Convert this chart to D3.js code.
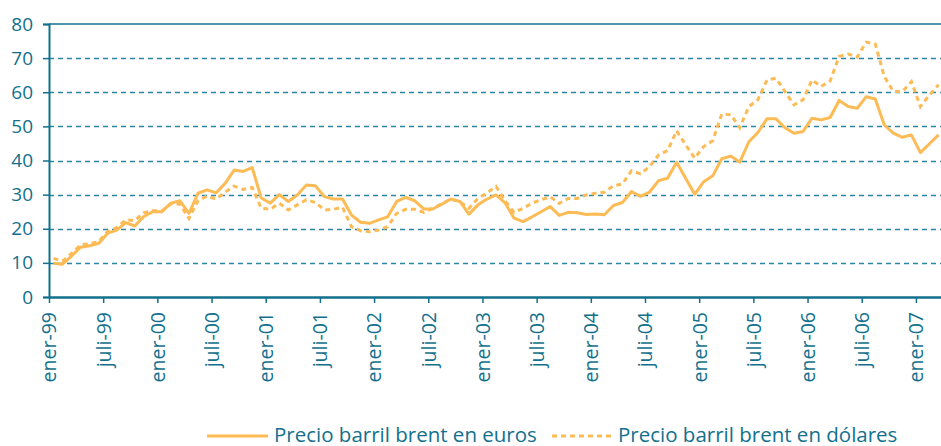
<!DOCTYPE html>
<html>
<head>
<meta charset="utf-8">
<script src="https://cdn.jsdelivr.net/npm/d3@7"></script>
<style>
  body { margin: 0; background: #fff; }
  svg text { font-family: "Open Sans", "Noto Sans", sans-serif; fill: #13708d; }
</style>
</head>
<body>
<div id="chart"></div>
<script>
'use strict';

// one label per month, ener-99 .. mar-07
const monthNames = ['ener', 'febr', 'marz', 'abri', 'mayo', 'juni', 'juli', 'agos', 'sept', 'octu', 'novi', 'dici'];
const months = [];
for (let y = 1999; y <= 2007; y++) {
    for (let m = 0; m < 12; m++) {
        if (y === 2007 && m > 2) break;
        months.push(`${monthNames[m]}-${String(y % 100).padStart(2, '0')}`);
    }
}

const euros = [
    9.9, 9.6, 12.0, 14.6, 15.0, 15.7, 18.7, 19.6, 21.8, 20.8, 23.6, 25.0,
    25.0, 27.5, 28.2, 24.5, 30.4, 31.4, 30.5, 33.3, 37.2, 36.8, 37.9, 29.0,
    27.5, 30.0, 28.0, 29.9, 32.8, 32.6, 29.4, 28.7, 28.7, 24.0, 21.9, 21.6,
    22.6, 23.5, 28.0, 29.2, 28.2, 25.8, 25.8, 27.2, 28.7, 28.0, 24.3, 27.0,
    28.7, 29.9, 27.6, 23.1, 22.1, 23.5, 25.0, 26.5, 23.9, 24.8, 24.7, 24.2,
    24.3, 24.1, 26.8, 27.7, 30.9, 29.5, 30.7, 34.1, 34.8, 39.5, 34.8, 30.1,
    33.8, 35.5, 40.5, 41.3, 39.5, 45.5, 48.2, 52.2, 52.2, 49.6, 48.0, 48.5,
    52.4, 51.9, 52.6, 57.6, 55.8, 55.3, 58.7, 58.0, 50.4, 48.0, 46.8, 47.5,
    42.3, 44.9, 47.5
];

const dollars = [
    11.3, 10.5, 12.8, 15.3, 15.6, 16.2, 19.2, 20.3, 22.6, 22.4, 24.7, 25.3,
    25.2, 27.3, 27.2, 23.0, 28.2, 29.6, 28.7, 30.7, 32.5, 31.5, 32.1, 26.0,
    25.7, 27.5, 25.5, 27.0, 28.5, 27.7, 25.5, 25.7, 26.3, 20.6, 19.4, 19.1,
    19.6, 20.6, 24.5, 25.7, 25.7, 24.8, 26.0, 27.3, 28.7, 27.9, 26.0, 28.9,
    30.5, 32.4, 28.2, 24.8, 26.0, 27.5, 28.5, 29.4, 27.4, 28.9, 28.9, 29.9,
    30.4, 30.7, 32.6, 33.1, 37.0, 36.1, 38.2, 41.6, 42.9, 48.7, 44.6, 40.7,
    44.1, 45.8, 53.6, 53.4, 49.6, 55.8, 57.8, 63.6, 64.1, 60.2, 56.3, 57.8,
    63.6, 61.7, 63.3, 70.5, 71.2, 70.3, 74.7, 74.1, 64.6, 60.2, 60.2, 63.1,
    55.8, 59.2, 62.2
];

const yTicks = [0, 10, 20, 30, 40, 50, 60, 70, 80];
const seriesNames = ['Precio barril brent en euros', 'Precio barril brent en dólares'];

const settings = { width: 941, height: 446 };
const margin = { top: 24, right: -2, bottom: 149, left: 49 };
const innerW = settings.width - margin.left - margin.right;
const innerH = settings.height - margin.top - margin.bottom;

const axisColor = '#13708d';
const gridColor = '#2b86a2';
const lineColor = '#fdbb55';

const svg = d3.select('#chart')
    .append('svg')
    .attr('width', settings.width)
    .attr('height', settings.height);

const g = svg.append('g')
    .attr('transform', `translate(${margin.left},${margin.top})`);

// x: one slot per month, points sit in the middle of their slot
const x = d3.scaleLinear()
    .domain([0, months.length])
    .range([0, innerW]);

const y = d3.scaleLinear()
    .domain([0, 80])
    .range([innerH, 0]);

// gridlines
g.append('g')
    .selectAll('line')
    .data(yTicks.filter(t => t > 0 && t < 80))
    .enter()
    .append('line')
    .attr('x1', 0)
    .attr('x2', innerW)
    .attr('y1', d => Math.round(y(d)) + 0.5)
    .attr('y2', d => Math.round(y(d)) + 0.5)
    .attr('stroke', gridColor)
    .attr('stroke-width', 1.3)
    .attr('stroke-dasharray', '5,4');

g.append('line')
    .attr('x1', 0)
    .attr('x2', innerW)
    .attr('y1', y(80))
    .attr('y2', y(80))
    .attr('stroke', axisColor)
    .attr('stroke-width', 1.5);

// lines
const line = d3.line()
    .x((d, i) => x(i + 0.5))
    .y(d => y(d));

g.append('path')
    .datum(dollars)
    .attr('fill', 'none')
    .attr('stroke', lineColor)
    .attr('stroke-width', 3)
    .attr('stroke-dasharray', '5,4')
    .attr('d', line);

g.append('path')
    .datum(euros)
    .attr('fill', 'none')
    .attr('stroke', lineColor)
    .attr('stroke-width', 3)
    .attr('stroke-linejoin', 'round')
    .attr('d', line);

// y axis
const yAxis = g.append('g')
    .call(d3.axisLeft(y).tickValues(yTicks).tickSize(6).tickPadding(10));
yAxis.select('.domain').attr('stroke', axisColor).attr('stroke-width', 2);
yAxis.selectAll('.tick line').attr('stroke', axisColor).attr('stroke-width', 1.5);
yAxis.selectAll('text').attr('fill', axisColor).style('font-size', '19px');

// x axis, a tick every six months
const xAxis = g.append('g')
    .attr('transform', `translate(0,${innerH})`)
    .call(d3.axisBottom(x)
        .tickValues(d3.range(0, months.length, 6))
        .tickFormat(i => months[i])
        .tickSize(6)
        .tickSizeOuter(0));
xAxis.select('.domain').attr('stroke', axisColor).attr('stroke-width', 2.5);
xAxis.selectAll('.tick line').attr('stroke', axisColor).attr('stroke-width', 1.5);
xAxis.selectAll('text')
    .attr('fill', axisColor)
    .style('font-size', '19.5px')
    .attr('transform', 'rotate(-90)')
    .attr('x', -15)
    .attr('y', 0)
    .attr('dy', '0.35em')
    .style('text-anchor', 'end');

// legend
const legend = svg.append('g').attr('transform', 'translate(0,436)');
const legendItems = [
    { name: seriesNames[0], dash: null, x1: 207, x2: 268, tx: 274 },
    { name: seriesNames[1], dash: '5,4', x1: 552, x2: 611, tx: 618 },
];
legendItems.forEach(item => {
    legend.append('line')
        .attr('x1', item.x1)
        .attr('x2', item.x2)
        .attr('y1', 0)
        .attr('y2', 0)
        .attr('stroke', lineColor)
        .attr('stroke-width', 3)
        .attr('stroke-dasharray', item.dash);
    legend.append('text')
        .attr('x', item.tx)
        .attr('y', 5.5)
        .style('font-size', '20.5px')
        .text(item.name);
});
</script>
</body>
</html>
